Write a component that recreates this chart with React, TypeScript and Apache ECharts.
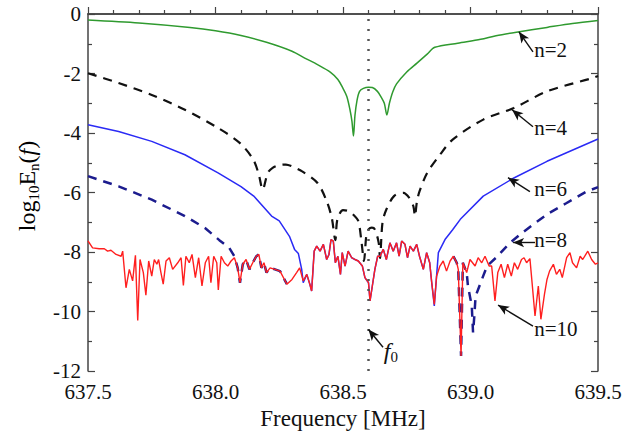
import React, { useEffect, useRef } from "react";
import * as echarts from "echarts";

const FONT = "Liberation Serif";

const xTicks = [637.5, 638.0, 638.5, 639.0, 639.5];
const yTicks = [-12, -10, -8, -6, -4, -2, 0];
const f0 = 638.6;

const n2: [number, number][] = [
  [637.5, -0.2], [637.7, -0.3], [637.9, -0.45], [638.0, -0.56], [638.1, -0.72], [638.2, -0.95],
  [638.3, -1.25], [638.35, -1.48], [638.4, -1.7], [638.45, -1.95], [638.48, -2.2], [638.5, -2.5],
  [638.515, -2.77], [638.527, -3.2], [638.535, -3.6], [638.541, -4.1], [638.547, -3.4], [638.555, -2.9],
  [638.565, -2.6], [638.58, -2.5], [638.6, -2.46], [638.615, -2.47], [638.635, -2.6], [638.65, -2.8],
  [638.662, -3.0], [638.672, -3.39], [638.682, -3.0], [638.695, -2.62], [638.71, -2.35], [638.75, -1.95],
  [638.79, -1.65], [638.83, -1.35], [638.86, -1.12], [638.95, -0.98], [639.04, -0.85], [639.1, -0.73],
  [639.18, -0.61], [639.3, -0.45], [639.4, -0.32], [639.5, -0.22],
];

const n4: [number, number][] = [
  [637.5, -1.99], [637.62, -2.32], [637.75, -2.72], [637.88, -3.22], [638.01, -3.83], [638.096, -4.34],
  [638.148, -4.89], [638.17, -5.4], [638.185, -5.9], [638.205, -5.34], [638.224, -5.17], [638.25, -5.08],
  [638.276, -5.06], [638.3, -5.12], [638.34, -5.29], [638.4, -5.68], [638.436, -6.29], [638.456, -6.85],
  [638.47, -7.6], [638.478, -6.9], [638.5, -6.59], [638.52, -6.62], [638.54, -6.74], [638.56, -6.96],
  [638.573, -7.69], [638.582, -8.3], [638.592, -7.4], [638.6, -7.24], [638.613, -7.18], [638.625, -7.24],
  [638.64, -7.69], [638.645, -8.2], [638.655, -7.0], [638.67, -6.57], [638.7, -6.12], [638.737, -6.01],
  [638.76, -6.18], [638.776, -6.46], [638.782, -6.79], [638.79, -6.3], [638.8, -5.96], [638.83, -5.34],
  [638.88, -4.73], [638.93, -4.22], [639.05, -3.55], [639.17, -3.16], [639.3, -2.6], [639.475, -2.16],
  [639.5, -2.08],
];

const n6Left: [number, number][] = [
  [637.5, -3.72], [637.62, -3.95], [637.75, -4.28], [637.88, -4.73], [638.01, -5.34], [638.1, -5.8],
  [638.15, -6.12], [638.22, -6.79], [638.25, -6.95], [638.29, -7.47], [638.31, -7.91], [638.325, -8.05],
  [638.338, -8.58], [638.344, -9.03],
];
const n6Right: [number, number][] = [
  [638.858, -9.81], [638.874, -8.02], [638.9, -7.58], [638.93, -7.25], [638.96, -6.9], [639.05, -6.12],
  [639.17, -5.51], [639.3, -4.95], [639.5, -4.2],
];

const n8Left: [number, number][] = [
  [637.5, -5.45], [637.62, -5.79], [637.75, -6.24], [637.88, -6.79], [637.96, -7.2], [638.015, -7.6],
  [638.054, -7.86], [638.074, -8.14],
];
const n8Right: [number, number][] = [
  [638.99, -9.14], [639.005, -9.81], [639.01, -10.7], [639.015, -10.15], [639.02, -9.48], [639.05, -8.8],
  [639.065, -8.47], [639.1, -8.19], [639.155, -7.69], [639.194, -7.41], [639.246, -7.07], [639.31, -6.68],
  [639.377, -6.35], [639.456, -5.96], [639.5, -5.82],
];

const n10: [number, number][] = [
  [637.5, -7.62], [637.518, -7.86], [637.544, -7.89], [637.564, -7.89], [637.577, -7.97], [637.59, -7.94],
  [637.61, -8.08], [637.63, -8.14], [637.636, -7.97], [637.649, -9.2], [637.662, -8.58], [637.675, -8.97],
  [637.686, -8.11], [637.695, -10.3], [637.704, -8.25], [637.717, -8.69], [637.727, -9.45], [637.738, -8.3],
  [637.75, -8.81], [637.76, -8.25], [637.77, -8.41], [637.777, -8.25], [637.786, -8.69], [637.795, -9.08],
  [637.806, -8.3], [637.819, -8.19], [637.832, -8.58], [637.852, -8.36], [637.865, -8.19], [637.874, -9.12],
  [637.884, -8.14], [637.897, -8.36], [637.908, -8.08], [637.921, -8.86], [637.934, -8.19], [637.947, -9.14],
  [637.96, -8.36], [637.973, -8.14], [637.982, -9.03], [637.993, -8.14], [638.005, -8.36], [638.011, -9.27],
  [638.022, -8.14], [638.035, -8.36], [638.048, -8.47], [638.061, -8.3], [638.074, -8.19], [638.087, -8.53],
  [638.096, -9.03], [638.107, -8.41], [638.12, -8.25], [638.133, -8.58], [638.146, -8.36], [638.16, -8.14],
  [638.17, -8.08], [638.18, -8.53], [638.19, -8.36], [638.2, -8.69], [638.214, -8.53], [638.233, -8.58],
  [638.253, -8.64], [638.28, -9.08], [638.3, -8.92], [638.318, -8.69], [638.33, -8.53], [638.344, -8.97],
  [638.358, -8.75], [638.37, -9.08], [638.377, -9.31], [638.387, -7.97], [638.397, -7.8], [638.41, -7.97],
  [638.423, -7.74], [638.436, -8.25], [638.445, -8.08], [638.453, -7.58], [638.462, -7.63], [638.47, -8.36],
  [638.48, -8.14], [638.49, -8.75], [638.497, -8.02], [638.508, -8.47], [638.52, -7.97], [638.534, -8.19],
  [638.547, -8.25], [638.56, -8.3], [638.576, -8.47], [638.586, -8.86], [638.6, -9.03], [638.606, -9.64],
  [638.615, -9.14], [638.625, -8.58], [638.636, -8.14], [638.645, -8.14], [638.658, -7.91], [638.67, -8.25],
  [638.684, -7.69], [638.697, -7.97], [638.71, -7.69], [638.72, -8.14], [638.73, -7.63], [638.743, -7.74],
  [638.753, -8.19], [638.763, -7.8], [638.776, -7.97], [638.789, -7.74], [638.8, -8.14], [638.815, -8.58],
  [638.828, -8.02], [638.84, -8.36], [638.848, -9.03], [638.858, -9.76], [638.867, -8.81], [638.88, -8.47],
  [638.893, -8.3], [638.906, -8.64], [638.92, -8.3], [638.933, -8.14], [638.946, -8.36], [638.952, -8.58],
  [638.963, -11.49], [638.97, -8.36], [638.985, -8.69], [638.998, -8.25], [639.018, -8.47], [639.03, -8.19],
  [639.044, -8.36], [639.057, -8.14], [639.073, -8.47], [639.083, -8.47], [639.096, -9.64], [639.107, -8.69],
  [639.12, -8.41], [639.133, -8.86], [639.146, -8.41], [639.16, -8.81], [639.172, -8.36], [639.185, -8.58],
  [639.2, -8.25], [639.21, -8.19], [639.22, -8.36], [639.233, -8.22], [639.242, -9.08], [639.253, -10.15],
  [639.266, -9.14], [639.276, -10.26], [639.29, -9.42], [639.3, -8.92], [639.31, -8.64], [639.325, -8.41],
  [639.337, -8.75], [639.35, -8.58], [639.36, -8.86], [639.377, -8.19], [639.39, -8.02], [639.4, -8.36],
  [639.416, -8.53], [639.43, -8.14], [639.44, -8.25], [639.46, -7.97], [639.475, -8.25], [639.49, -8.41],
  [639.5, -8.36],
];

// annotation arrows: [from, to] in data coordinates
const arrows: [[number, number], [number, number]][] = [
  [[639.245, -1.27], [639.19, -0.6]],
  [[639.245, -3.79], [639.163, -3.22]],
  [[639.233, -5.97], [639.147, -5.5]],
  [[639.253, -7.68], [639.167, -7.68]],
  [[639.245, -10.49], [639.108, -9.78]],
  [[638.657, -11.2], [638.6, -10.6]],
];

const labels: { text: string; at: [number, number] }[] = [
  { text: "n=2", at: [639.25, -1.2] },
  { text: "n=4", at: [639.25, -3.83] },
  { text: "n=6", at: [639.25, -5.87] },
  { text: "n=8", at: [639.25, -7.6] },
  { text: "n=10", at: [639.25, -10.6] },
];

const t = (size: number, extra: any = {}) => ({ fontFamily: FONT, fontSize: size, color: "#111", ...extra });

export default function App() {
  const ref = useRef<HTMLDivElement>(null);
  useEffect(() => {
    if (!ref.current) return;
    const chart = echarts.init(ref.current, undefined, { renderer: "svg" });
    const n10Between = (a: number, b: number) => n10.filter((p) => p[0] > a && p[0] < b);
    const n6 = [...n6Left, ...n10Between(638.344, 638.858), ...n6Right];
    const n8: any[] = [
      ...n8Left,
      ...n10Between(638.074, 638.3),
      [638.3, null],
      ...n10Between(638.93, 638.99),
      ...n8Right,
    ];

    const axisLine = { show: true, lineStyle: { color: "#444", width: 1.5 } };
    const tickStyle = { color: "#444", width: 1.2 };
    const option: any = {
      animation: false,
      backgroundColor: "#fff",
      textStyle: { fontFamily: FONT },
      grid: { left: 88, right: 39, top: 14, bottom: 63 },
      xAxis: [
        {
          type: "value",
          min: 637.5,
          max: 639.5,
          interval: 0.5,
          axisLine,
          axisTick: { show: true, inside: true, length: 7, lineStyle: tickStyle },
          minorTick: { show: true, splitNumber: 5, length: 4, lineStyle: tickStyle },
          splitLine: { show: false },
          axisLabel: {
            ...t(21),
            margin: 10,
            formatter: (v: number) => (xTicks.includes(v) ? v.toFixed(1) : ""),
          },
          name: "Frequency [MHz]",
          nameLocation: "middle",
          nameGap: 33,
          nameTextStyle: t(23),
        },
        {
          type: "value",
          position: "top",
          min: 637.5,
          max: 639.5,
          axisLine,
          axisTick: { show: false },
          axisLabel: { show: false },
          splitLine: { show: false },
        },
      ],
      yAxis: [
        {
          type: "value",
          min: -12,
          max: 0,
          interval: 2,
          axisLine,
          axisTick: { show: true, inside: true, length: 7, lineStyle: tickStyle },
          minorTick: { show: true, splitNumber: 2, length: 4, lineStyle: tickStyle },
          splitLine: { show: false },
          axisLabel: {
            ...t(21),
            margin: 7,
            formatter: (v: number) => (yTicks.includes(v) ? String(v) : ""),
          },
        },
        {
          type: "value",
          position: "right",
          min: -12,
          max: 0,
          interval: 2,
          axisLine,
          axisTick: { show: true, inside: true, length: 7, lineStyle: tickStyle },
          minorTick: { show: true, splitNumber: 2, length: 4, lineStyle: tickStyle },
          splitLine: { show: false },
          axisLabel: { show: false },
        },
      ],
      series: [
        {
          name: "n=2",
          type: "line",
          data: n2,
          symbol: "none",
          smooth: 0.3,
          lineStyle: { color: "#2f9a2f", width: 1.5 },
        },
        {
          name: "n=4",
          type: "line",
          data: n4,
          symbol: "none",
          smooth: 0.3,
          lineStyle: { color: "#111", width: 2.2, type: [9, 7] },
        },
        {
          name: "n=6",
          type: "line",
          data: n6,
          symbol: "none",
          lineStyle: { color: "#2a2af5", width: 1.5 },
        },
        {
          name: "n=8",
          type: "line",
          data: n8,
          symbol: "none",
          connectNulls: false,
          lineStyle: { color: "#1c1c8e", width: 2.5, type: [9, 7] },
        },
        {
          name: "n=10",
          type: "line",
          data: n10,
          symbol: "none",
          lineStyle: { color: "#ff1f1f", width: 1.4 },
          markLine: {
            silent: true,
            animation: false,
            label: { show: false },
            data: [
              [
                { coord: [f0, -12], symbol: "none" },
                { coord: [f0, 0], symbol: "none", lineStyle: { color: "#555", width: 2.5, type: [2, 8] } },
              ],
              ...arrows.map(([a, b]) => [
                { coord: a, symbol: "none" },
                { coord: b, symbol: "arrow", symbolSize: [7, 11], lineStyle: { color: "#111", width: 1.4, type: "solid" } },
              ]),
            ],
          },
          markPoint: {
            silent: true,
            symbol: "circle",
            symbolSize: 0,
            data: [
              ...labels.map((l) => ({
                coord: l.at,
                label: {
                  show: true,
                  formatter: l.text,
                  position: "right",
                  distance: 0,
                  ...t(21),
                },
              })),
              {
                coord: [638.66, -11.35],
                label: {
                  show: true,
                  position: "right",
                  distance: 0,
                  formatter: "{i|f}{s|0}",
                  rich: {
                    i: t(24, { fontStyle: "italic", lineHeight: 26, verticalAlign: "top" }),
                    s: t(15, { lineHeight: 14, verticalAlign: "bottom" }),
                  },
                },
              },
            ],
          },
        },
      ],
      graphic: [
        {
          type: "text",
          x: 27,
          y: 186,
          rotation: Math.PI / 2,
          style: {
            text: "{a|log}{s|10}{a|E}{s|n}{a|(}{i|f}{a|)}",
            align: "center",
            verticalAlign: "middle",
            rich: {
              a: t(24, { lineHeight: 28, verticalAlign: "middle" }),
              i: t(24, { fontStyle: "italic", lineHeight: 28, verticalAlign: "middle" }),
              s: t(15, { lineHeight: 14, verticalAlign: "bottom" }),
            },
          },
        },
      ],
    };
    chart.setOption(option);
    return () => chart.dispose();
  }, []);
  return (
    <div
      ref={ref}
      style={{ position: "fixed", left: 0, top: 0, width: 637, height: 435, background: "#fff" }}
    />
  );
}
